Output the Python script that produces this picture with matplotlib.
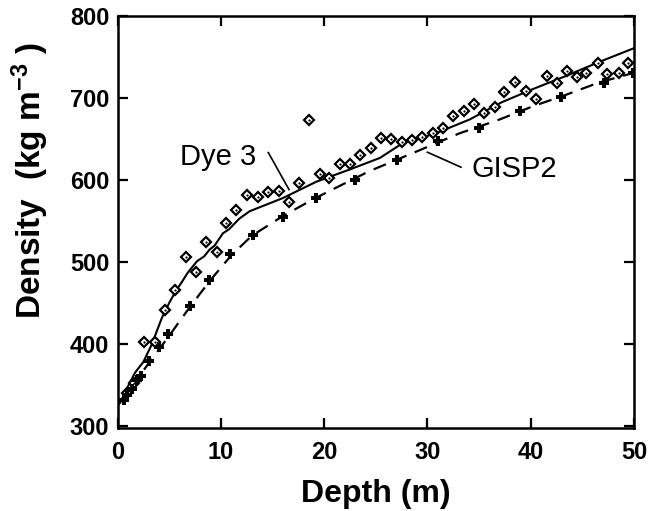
import matplotlib
matplotlib.use("Agg")
import matplotlib.pyplot as plt

plt.rcParams['font.family'] = ['Liberation Sans', 'DejaVu Sans']
plt.rcParams['mathtext.fontset'] = 'custom'
plt.rcParams['mathtext.rm'] = 'Liberation Sans:bold'
plt.rcParams['mathtext.bf'] = 'Liberation Sans:bold'
plt.rcParams['mathtext.it'] = 'Liberation Sans:bold'
plt.rcParams['mathtext.default'] = 'bf'

# Dye 3 measured densities (diamonds)
dye3_depth = [0.9, 1.6, 2.6, 3.6, 4.6, 5.6, 6.6, 7.6, 8.55, 9.6, 10.55, 11.5, 12.55, 13.6,
              14.6, 15.6, 16.6, 17.6, 18.5, 19.6, 20.5, 21.5, 22.5, 23.5, 24.5, 25.5,
              26.5, 27.5, 28.5, 29.5, 30.5, 31.5, 32.5, 33.5, 34.5, 35.5, 36.5, 37.4,
              38.5, 39.5, 40.5, 41.6, 42.5, 43.5, 44.5, 45.4, 46.5, 47.4, 48.5, 49.45]
dye3_density = [340, 352, 402, 402, 441, 466, 506, 488, 524, 512, 548, 564, 582, 579,
                586, 587, 573, 597, 673, 607, 602, 619, 620, 631, 639, 651,
                650, 647, 649, 653, 657, 664, 678, 684, 693, 682, 689, 707,
                720, 709, 699, 727, 718, 733, 726, 731, 743, 730, 731, 743]

# GISP2 measured densities (crosses)
gisp2_depth = [0.6, 0.9, 1.4, 1.9, 2.3, 3.0, 4.0, 4.9, 7.0, 8.9, 10.9, 13.1, 16.0,
               19.2, 23.0, 27.1, 31.0, 35.0, 39.0, 42.9, 47.1, 49.9]
gisp2_density = [332, 338, 345, 356, 361, 379, 396, 412, 446, 478, 510, 533, 555,
                 578, 600, 625, 648, 664, 684, 701, 718, 731]

# Dye 3 model curve (solid)
dye3_line_depth = [0, 0.24, 1.0, 1.7, 2.5, 3.3, 4.3, 5.0, 5.7, 6.2, 6.8, 7.7, 8.4, 8.9,
                   9.4, 10.2, 10.8, 11.8, 12.8, 13.6, 16.0, 19.25, 22.5, 25.4, 27.6,
                   30.8, 34.1, 37.2, 40.2, 43.4, 46.6, 50.0]
dye3_line_density = [325, 328, 348, 365, 378, 399, 432, 450, 466, 475, 487, 501, 507, 515,
                     520, 535, 540, 553, 562, 566, 578, 598, 613, 627, 645,
                     657, 674, 695, 711, 727, 744, 761]

# GISP2 model curve (dashed)
gisp2_line_depth = [0, 1, 2, 3, 4, 5, 7, 9, 11, 13, 16, 19, 22, 24.4, 28.6, 33.1,
                    37.0, 40.2, 43.4, 46.6, 50.0]
gisp2_line_density = [325, 342, 359, 376, 393, 410, 445, 478, 508, 532, 556, 577, 596,
                      611, 633, 657, 674, 690, 704, 719, 731]

fig = plt.figure(figsize=(6.5, 5.11), dpi=100)
ax = fig.add_axes([0.1808, 0.1618, 0.7946, 0.8065])

ax.plot(dye3_line_depth, dye3_line_density, color='black', lw=1.5, zorder=2)
ax.plot(gisp2_line_depth, gisp2_line_density, color='black', lw=1.6,
        dashes=(6, 4), zorder=2)
ax.plot(dye3_depth, dye3_density, linestyle='none', marker='D', ms=5.2,
        mfc='white', mec='black', mew=1.6, zorder=3)
ax.plot(dye3_depth, dye3_density, linestyle='none', marker='o', ms=1.6,
        mfc='black', mec='black', mew=0, zorder=4)
ax.plot(gisp2_depth, gisp2_density, linestyle='none', marker='P', ms=7.5,
        mfc='black', mec='black', mew=0, zorder=3)

# labels with leader lines
ax.plot([14.6, 16.6], [633.5, 588.4], color='black', lw=1.2)
ax.text(13.4, 628, 'Dye 3', fontsize=21, ha='right', va='center')
ax.plot([30.0, 33.25], [634, 615.7], color='black', lw=1.2)
ax.text(34.3, 613, 'GISP2', fontsize=21, ha='left', va='center')

ax.set_xlim(0, 50)
ax.set_ylim(297, 800)
ax.set_xticks([0, 10, 20, 30, 40, 50])
ax.set_yticks([300, 400, 500, 600, 700, 800])
ax.tick_params(direction='in', length=7, width=1.6, top=True, right=True,
               labelsize=17)
ax.tick_params(axis='x', pad=9)
ax.tick_params(axis='y', pad=6)
for lab in ax.get_xticklabels() + ax.get_yticklabels():
    lab.set_fontweight('bold')
for sp in ax.spines.values():
    sp.set_linewidth(1.8)

ax.set_xlabel('Depth (m)', fontsize=23, fontweight='bold', labelpad=11)
ax.set_ylabel(r'Density  (kg m$^{-3}$ )', fontsize=24, fontweight='bold',
              labelpad=12)
ax.yaxis.set_label_coords(-0.128, 0.60)

fig.savefig('out.png', dpi=100)
